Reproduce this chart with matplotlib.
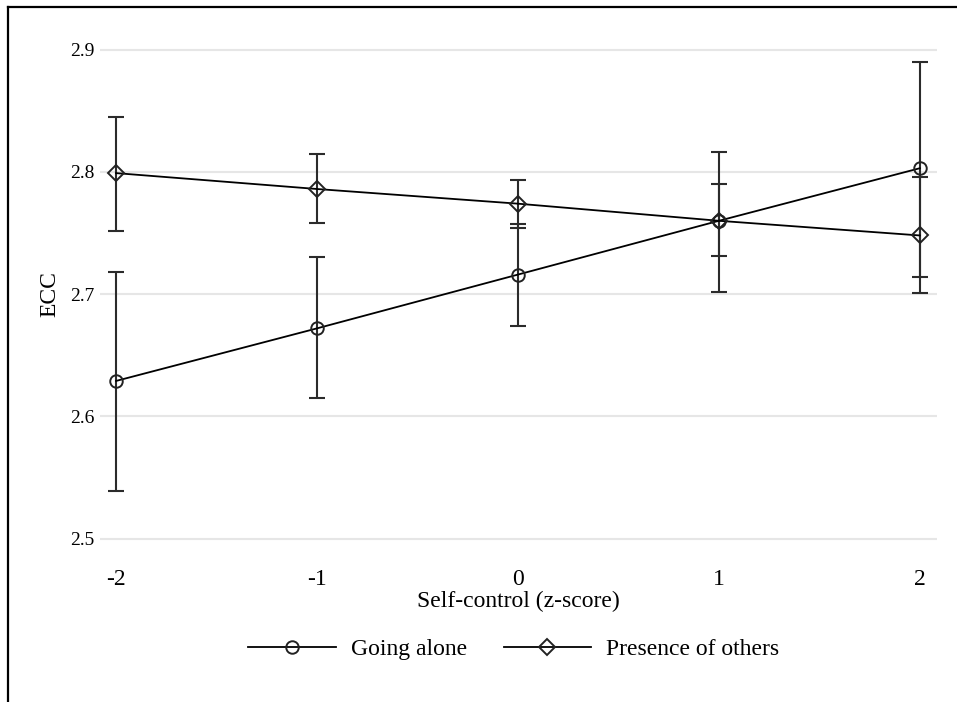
import matplotlib
matplotlib.use("Agg")
import matplotlib.pyplot as plt
from matplotlib.lines import Line2D

plt.rcParams["font.family"] = ["Liberation Serif", "DejaVu Serif"]

# self-control z-score levels
x_vals = [-2, -1, 0, 1, 2]

# Going alone: mean ECC with CI bounds
alone_mean = [2.629, 2.672, 2.716, 2.760, 2.803]
alone_low = [2.539, 2.615, 2.674, 2.702, 2.714]
alone_high = [2.718, 2.730, 2.757, 2.816, 2.890]

# Presence of others
others_mean = [2.799, 2.786, 2.774, 2.760, 2.748]
others_low = [2.752, 2.758, 2.754, 2.731, 2.701]
others_high = [2.845, 2.815, 2.793, 2.790, 2.796]

y_ticks = [2.5, 2.6, 2.7, 2.8, 2.9]
x_ticks = [-2, -1, 0, 1, 2]

fig = plt.figure(figsize=(9.57, 7.02), dpi=100)
ax = fig.add_axes([0.1045, 0.2275, 0.8745, 0.707])

err_color = "#2b2b2b"

def draw(mean, low, high, marker, label):
    yerr = [[m - l for m, l in zip(mean, low)], [h - m for m, h in zip(mean, high)]]
    ax.errorbar(x_vals, mean, yerr=yerr, fmt="none", ecolor=err_color,
                elinewidth=1.5, capsize=6, capthick=1.5, zorder=3)
    ax.plot(x_vals, mean, color="black", linewidth=1.3, marker=marker,
            markersize=9 if marker == "o" else 8.5, markerfacecolor="none",
            markeredgecolor="#222222", markeredgewidth=1.4, label=label, zorder=4)

draw(alone_mean, alone_low, alone_high, "o", "Going alone")
draw(others_mean, others_low, others_high, "D", "Presence of others")

ax.set_xlim(-2.08, 2.085)
ax.set_ylim(2.497, 2.903)
ax.set_xticks(x_ticks)
ax.set_xticklabels([str(v) for v in x_ticks], fontsize=17)
ax.set_yticks(y_ticks)
ax.set_yticklabels([f"{v:.1f}" for v in y_ticks], fontsize=14)
ax.tick_params(length=0)
ax.tick_params(axis="y", pad=4)
ax.tick_params(axis="x", pad=19)
ax.grid(axis="y", color="#e6e6e6", linewidth=1.5)
ax.set_axisbelow(True)
for s in ax.spines.values():
    s.set_visible(False)

ax.set_xlabel("Self-control (z-score)", fontsize=17, labelpad=1)
ax.set_ylabel("ECC", fontsize=17, labelpad=7)

leg = fig.legend(loc="center", bbox_to_anchor=(0.537, 0.075), ncol=2,
                 frameon=False, fontsize=17, handlelength=3.7,
                 columnspacing=1.55, handletextpad=0.65)

# outer frame (left and top)
fig.add_artist(Line2D([0.0085, 0.0085], [0.0, 0.99], color="black", linewidth=1.6,
                      transform=fig.transFigure))
fig.add_artist(Line2D([0.0085, 1.0], [0.99, 0.99], color="black", linewidth=1.6,
                      transform=fig.transFigure))

fig.savefig("out.png", dpi=100)
